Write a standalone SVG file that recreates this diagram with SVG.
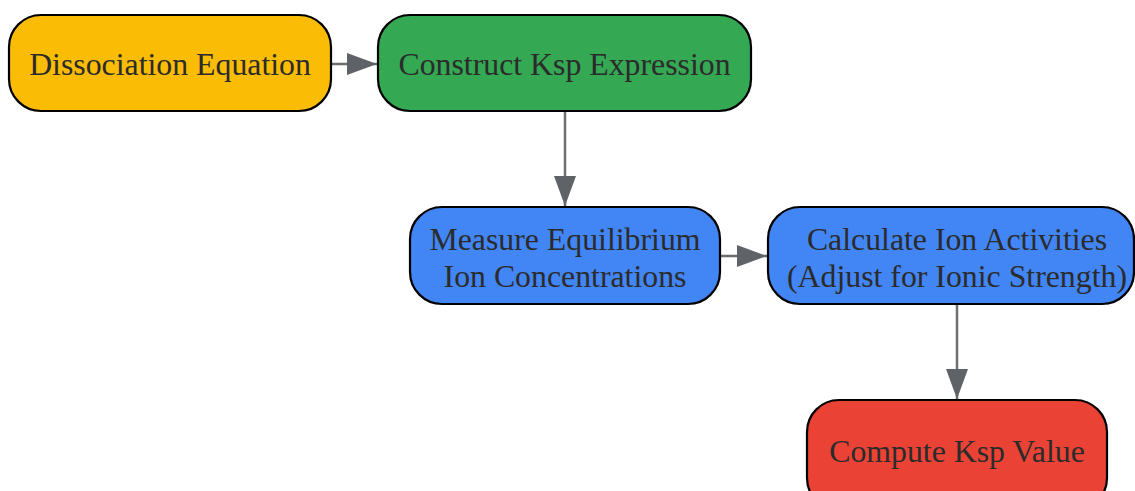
<svg xmlns="http://www.w3.org/2000/svg" width="1135" height="491" viewBox="0 0 1135 491">
<style>
.n{stroke:#000;stroke-width:2.2}
.t{font-family:"Liberation Serif","Times New Roman",serif;font-size:31.8px;fill:#2b2b2b;text-anchor:middle}
.e{stroke:#6b6e72;stroke-width:2.5;fill:none}
</style>
<defs>
<marker id="ah" markerWidth="30" markerHeight="22" refX="30" refY="11" orient="auto" markerUnits="userSpaceOnUse">
<path d="M0,0 L30,11 L0,22 Z" fill="#5f6368"/>
</marker>
</defs>
<rect width="1135" height="491" fill="#fff"/>
<g id="connectors">
<path class="e" d="M331,64 L377,64" marker-end="url(#ah)"/>
<path class="e" d="M565,111 L565,206" marker-end="url(#ah)"/>
<path class="e" d="M720,256 L767,256" marker-end="url(#ah)"/>
<path class="e" d="M957,304 L957,399" marker-end="url(#ah)"/>
</g>
<g id="n1">
<rect class="n" x="9" y="15" width="322" height="96" rx="32" fill="#FBBC05"/>
<text class="t" x="170" y="75">Dissociation Equation</text>
</g>
<g id="n2">
<rect class="n" x="378" y="15" width="373" height="96" rx="32" fill="#34A853"/>
<text class="t" x="564.5" y="75">Construct Ksp Expression</text>
</g>
<g id="n3">
<rect class="n" x="410" y="207" width="310" height="97" rx="32" fill="#4285F4"/>
<text class="t" x="565" y="250">Measure Equilibrium</text>
<text class="t" x="565" y="287">Ion Concentrations</text>
</g>
<g id="n4">
<rect class="n" x="768" y="207" width="366" height="97" rx="32" fill="#4285F4"/>
<text class="t" x="957" y="250">Calculate Ion Activities</text>
<text class="t" x="957" y="287">(Adjust for Ionic Strength)</text>
</g>
<g id="n5">
<rect class="n" x="807" y="400" width="300" height="110" rx="32" fill="#EA4335"/>
<text class="t" x="957" y="462">Compute Ksp Value</text>
</g>
</svg>
